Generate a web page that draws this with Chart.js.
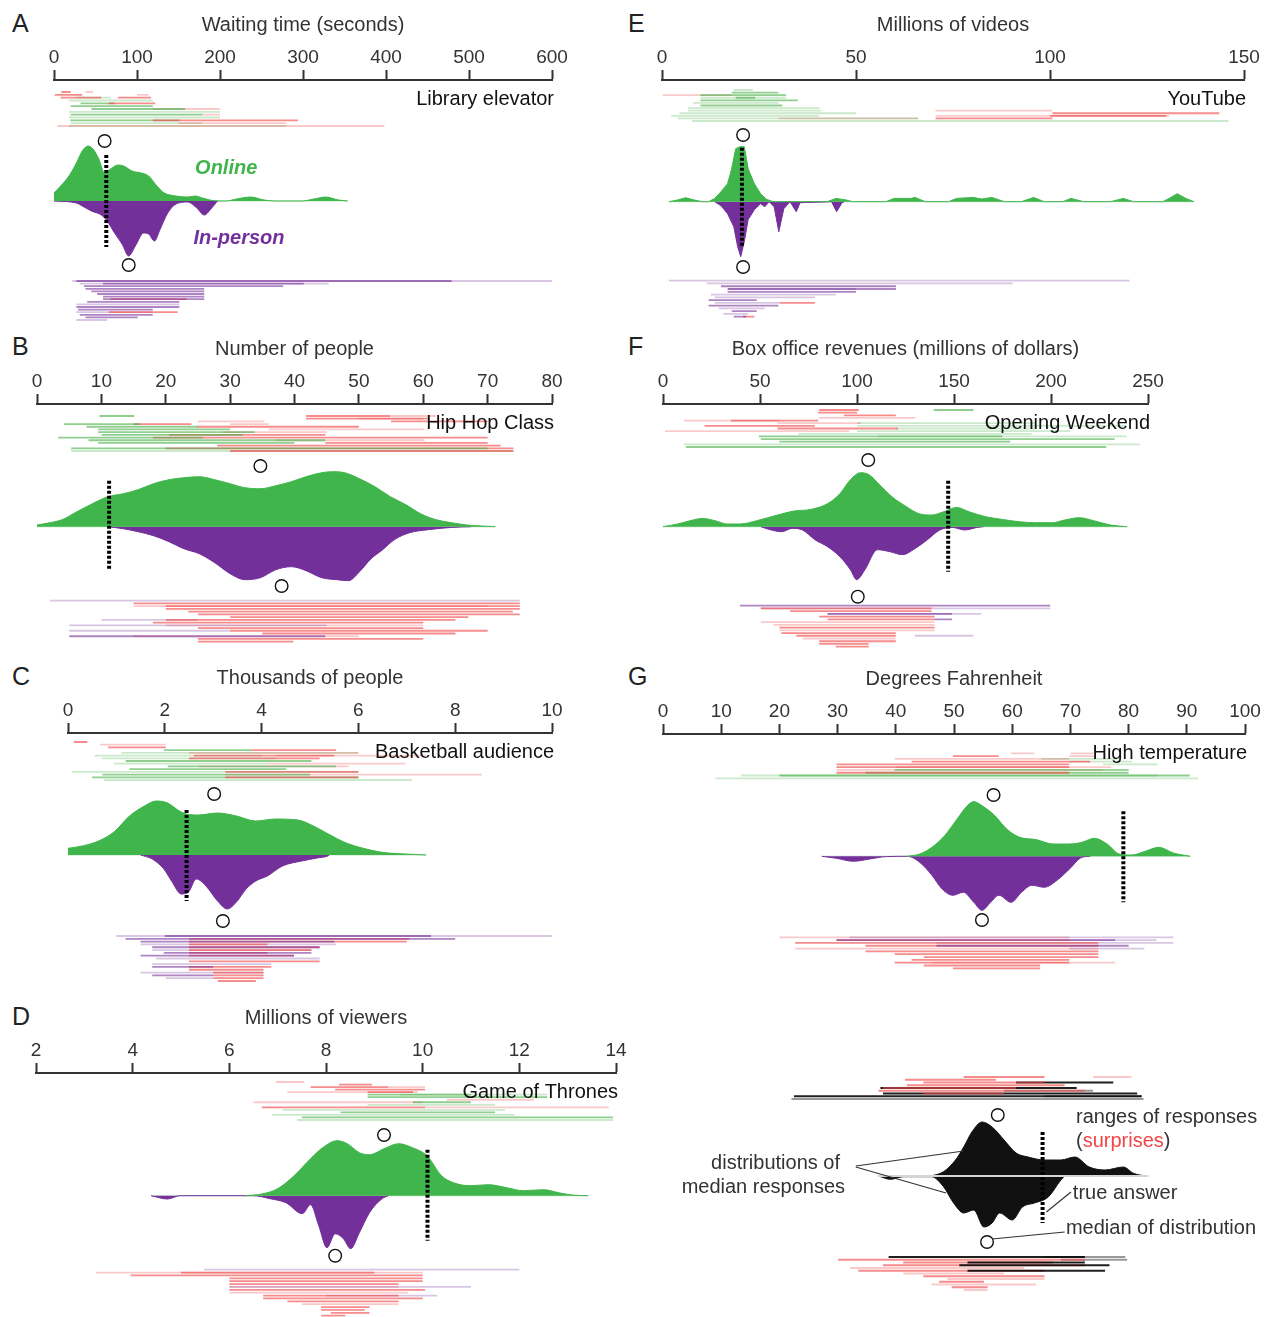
<!DOCTYPE html>
<html>
<head>
<meta charset="utf-8">
<script src="https://cdn.jsdelivr.net/npm/chart.js@4.4.1/dist/chart.umd.min.js"></script>
<style>
  body { margin: 0; background: #fff; width: 1271px; height: 1317px; position: relative; overflow: hidden; font-family: "Liberation Sans", Arial, sans-serif; }
  canvas { position: absolute; }
  .letter { position: absolute; font-size: 25px; line-height: 1; color: #222; }
</style>
</head>
<body>
<div class="letter" style="left:12px;top:11px">A</div>
<div class="letter" style="left:12px;top:334px">B</div>
<div class="letter" style="left:12px;top:664px">C</div>
<div class="letter" style="left:12px;top:1004px">D</div>
<div class="letter" style="left:628px;top:11px">E</div>
<div class="letter" style="left:628px;top:334px">F</div>
<div class="letter" style="left:628px;top:664px">G</div>
<script>
// ---- data: densities are [value, height], ranges are rows of [from, to, colour code] ----

// A  library elevator
const elevTicks = [0, 100, 200, 300, 400, 500, 600];
const elevOnline = [[0,8],[8,15],[18,25],[27,38],[34,50],[41,55],[47,52],[54,42],[61,28],[68,32],[77,36],[84,35],[94,30],[105,28],[114,25],[124,15],[133,8],[147,5],[161,4],[170,5],[179,3],[193,0.3],[207,0],[220,2],[237,4],[253,1],[267,0],[299,0],[313,2],[327,4],[343,1],[354,0]];
const elevInPerson = [[0,0],[27,2],[34,5],[45,10],[57,14],[64,20],[73,32],[82,43],[90,55],[98,45],[108,32],[114,33],[121,40],[128,28],[137,12],[147,3],[161,1],[172,7],[181,14],[190,7],[197,0]];
const elevTruth = 63;
const elevMedians = [61, 90];
const elevOnlineRanges = [
  [[9,20,'r'],[38,47,'R']],
  [[1,34,'r'],[100,114,'R']],
  [[8,57,'r'],[27,68,'G'],[77,117,'r']],
  [[18,119,'G']],
  [[32,73,'g'],[66,122,'r']],
  [[20,119,'g']],
  [[45,158,'g'],[119,200,'R']],
  [[18,137,'G'],[60,200,'G']],
  [[20,179,'g'],[179,200,'R']],
  [[18,200,'G']],
  [[20,151,'g'],[119,294,'r']],
  [[20,179,'G'],[150,280,'R']],
  [[4,398,'R'],[18,280,'G']]
];
const elevInPersonRanges = [
  [[22,600,'P'],[27,479,'p']],
  [[31,331,'P'],[59,301,'p']],
  [[36,276,'p']],
  [[38,181,'p']],
  [[45,181,'p']],
  [[52,181,'p']],
  [[59,181,'p']],
  [[59,181,'p'],[68,160,'r']],
  [[40,151,'p']],
  [[27,151,'P']],
  [[27,151,'p']],
  [[29,119,'p']],
  [[27,119,'P'],[66,149,'r']],
  [[31,119,'p']],
  [[38,101,'p']],
  [[27,64,'P']]
];

// B  hip hop class
const hipTicks = [0, 10, 20, 30, 40, 50, 60, 70, 80];
const hipOnline = [[0,1.7],[2,4],[3.9,7],[6.2,15],[8.6,23],[11,30],[13.4,33],[15.7,37],[18.1,43],[20.5,47],[22.8,49],[25.2,50],[27.6,47],[30,43],[32.3,39],[34.7,38],[37.1,41],[39.5,45],[41.8,50],[44.2,54],[46,55],[47.8,54],[50.1,48],[52.5,40],[54.9,30],[57.3,22],[59.6,13],[62,7],[64.4,4],[66.8,1.7],[69.1,0.7],[71.2,0]];
const hipInPerson = [[11,0],[13.4,2],[15.7,5],[18.1,9],[20.5,15],[22.8,22],[25.2,27],[27.6,36],[30,47],[32.3,53],[34.7,51],[37.1,43],[39.5,40],[41.8,44],[44.2,51],[46.6,53],[48.4,54],[50.1,45],[51.9,32],[53.7,23],[55.5,13],[57.9,6],[60.8,3],[64.4,0.7],[67.4,0]];
const hipTruth = 11.2;
const hipMedians = [34.7, 38];
const hipOnlineRanges = [
  [[9.7,15.1,'g'],[41.8,54.9,'r'],[55,62,'R']],
  [[41.8,60.8,'r'],[50,60,'R']],
  [[25,35.3,'R'],[55,70,'r']],
  [[4.2,16,'g'],[15,24,'r'],[30,36,'R']],
  [[7.7,25,'g'],[24.9,40,'r'],[29.4,50,'r']],
  [[9.5,30,'g'],[36,60.2,'R']],
  [[9.5,33.8,'g'],[28.8,45,'R']],
  [[10,32,'g'],[20.5,44.8,'r']],
  [[3.3,25.8,'g'],[18,70,'r']],
  [[8,44.8,'g'],[37,60.2,'R']],
  [[9.5,40,'g'],[44.8,70,'r']],
  [[28,72,'r']],
  [[5.3,70,'g'],[20,74,'r']],
  [[5.3,74,'G'],[30,74,'r']]
];
const hipInPersonRanges = [
  [[2,75,'P']],
  [[15,75,'r']],
  [[15,70,'R'],[20,75,'r']],
  [[20,75,'r']],
  [[23.5,73.9,'r']],
  [[25,75,'r']],
  [[30,67,'r']],
  [[10,25,'P'],[20,65,'r']],
  [[18,60,'r']],
  [[5,45,'P'],[20,60,'R']],
  [[25,60,'r']],
  [[5,30,'P'],[30,70,'r']],
  [[35,65,'r']],
  [[5,44.8,'p'],[15,50,'R']],
  [[25,60,'r']],
  [[25,39.8,'r']]
];

// C  basketball audience
const bballTicks = [0, 2, 4, 6, 8, 10];
const bballOnline = [[0,6.7],[0.32,9.3],[0.63,14],[0.95,23],[1.27,39],[1.58,49],[1.82,54],[2.06,52],[2.3,44],[2.45,41],[2.69,40],[3.09,42],[3.48,39],[3.88,34],[4.28,36],[4.75,35],[5.07,29],[5.38,21],[5.7,13],[6.1,6.7],[6.49,2.7],[6.97,1],[7.4,0]];
const bballInPerson = [[1.5,0],[1.74,4],[1.98,14],[2.14,26],[2.34,39],[2.49,37],[2.65,24],[2.85,31],[3.09,46],[3.29,54],[3.48,47],[3.68,34],[3.88,26],[4.12,21],[4.43,11],[4.83,6],[5.15,3],[5.38,0.7],[5.4,0]];
const bballTruth = 2.45;
const bballMedians = [3.02, 3.2];
const bballOnlineRanges = [
  [[0.12,0.4,'r']],
  [[0.67,1.54,'R'],[1.54,2.02,'R']],
  [[0.83,2.02,'r']],
  [[1.98,3.8,'g'],[3.8,5.54,'r']],
  [[1.1,6.0,'G'],[2.5,6,'R']],
  [[0.55,4,'G'],[2.6,5.5,'r'],[4.3,7.4,'R']],
  [[0.7,4.3,'G'],[2.5,5.2,'r']],
  [[1.19,5.03,'g']],
  [[0.95,4.12,'G'],[4.12,6.97,'R']],
  [[2.06,5.54,'g'],[2.7,5.8,'R']],
  [[1.27,4.51,'g']],
  [[0.08,6,'G'],[3.25,6,'r']],
  [[0.71,5,'g'],[3.25,8.55,'R']],
  [[0.5,6,'g'],[3.25,6,'r']],
  [[0.75,7.1,'G']]
];
const bballInPersonRanges = [
  [[1,10,'P'],[2,7.5,'p']],
  [[1.19,8,'p'],[2.5,7.05,'r']],
  [[1.5,5.5,'p'],[2.5,7,'r']],
  [[1.5,5.54,'P'],[2.5,4.12,'r']],
  [[1.74,5.2,'p'],[2.5,5.2,'r']],
  [[1.74,5.03,'P'],[2.5,5.03,'r']],
  [[1.98,5.03,'p'],[2.5,4.12,'r']],
  [[1.5,4.67,'p'],[2.5,4.67,'r']],
  [[1.82,5.2,'P']],
  [[2.5,5.2,'r']],
  [[1.74,4.2,'P']],
  [[2.5,4.2,'r'],[1.74,3,'p']],
  [[2.5,4.04,'r']],
  [[1.5,4.04,'P'],[3,4.04,'r']],
  [[1.74,3,'p'],[3,4.04,'r']],
  [[2.02,3,'P'],[3,4.04,'r']],
  [[3.1,3.88,'r']]
];

// D  game of thrones
const gotTicks = [2, 4, 6, 8, 10, 12, 14];
const gotOnline = [[6.33,0],[6.67,1.7],[7.0,7],[7.34,20],[7.68,37],[7.93,48],[8.23,55],[8.44,52],[8.69,43],[8.9,41],[9.2,47],[9.5,52],[9.79,48],[10.09,40],[10.39,20],[10.64,13],[10.98,10],[11.36,11],[11.74,8],[12.08,5],[12.5,6],[12.84,2.7],[13.09,0.7],[13.43,0]];
const gotInPerson = [[4.38,0],[4.72,3.3],[4.98,0],[6.5,0],[6.84,3],[7.17,7],[7.51,18],[7.68,9],[7.85,30],[8.02,52],[8.19,38],[8.36,43],[8.51,53],[8.69,37],[8.9,17],[9.16,3],[9.29,0]];
const gotTruth = 10.1;
const gotMedians = [9.2, 8.19];
const gotOnlineRanges = [
  [[6.96,7.55,'R']],
  [[8.27,8.95,'r']],
  [[7.68,9.29,'r'],[9.29,10.05,'R']],
  [[8.19,10.05,'r']],
  [[7.2,9.9,'R'],[8.86,9.8,'r']],
  [[8.86,11.0,'g'],[9.54,12.58,'G']],
  [[8.86,12.58,'g']],
  [[10.5,12.3,'R']],
  [[6.5,10.0,'R'],[9.8,11,'g']],
  [[8.86,11.5,'G']],
  [[6.67,10.05,'r'],[10.05,13.85,'R']],
  [[7.1,11.7,'G']],
  [[8.3,11.5,'g']],
  [[6.88,11.9,'G']],
  [[7.5,13.94,'g']],
  [[7.4,13.94,'G']]
];
const gotInPersonRanges = [
  [[5.48,12,'P']],
  [[3.24,10,'R'],[5,9,'r']],
  [[3.96,9.03,'r'],[5.0,10,'r']],
  [[6,10,'r']],
  [[6,10,'r']],
  [[6,9.5,'r']],
  [[6,11,'P'],[6,9.5,'R']],
  [[6,10.05,'r']],
  [[6,9.7,'R']],
  [[6.7,9.5,'r'],[8,10.3,'P']],
  [[6.7,10,'r']],
  [[7.2,9.5,'r']],
  [[7.5,9.5,'R']],
  [[7.9,8.9,'r']],
  [[7.9,8.8,'r']],
  [[8.1,8.9,'r']],
  [[7.9,8.4,'r']]
];

// E  youtube
const ytTicks = [0, 50, 100, 150];
const ytOnline = [[1.8,0],[4,1.7],[6.1,4],[8.3,1.7],[10.4,0],[12,0],[13.6,3.3],[15.2,10],[16.9,18],[17.9,32],[19,53],[20.1,55],[21.2,55],[22.2,33],[23.8,18],[25.4,8],[27,2.3],[28.7,0],[42.6,0],[44.8,3.3],[47.5,1.7],[49.1,0],[57.7,0],[59.8,3.3],[64.1,3.3],[65.2,4.3],[67.9,0],[73.8,0],[75.9,3.3],[80.2,4.3],[82.4,2.7],[85,4.3],[88.3,0],[92.6,0],[95.8,4.3],[98.5,0],[103.3,0],[105.4,3.3],[108.7,0],[115.6,0],[118.9,3.3],[121.5,0],[129,0],[130.7,3.3],[132.8,8],[135,3.3],[137.1,0]];
const ytInPerson = [[13.6,0],[15.2,4],[16.9,12],[18.5,25],[19.5,45],[20.3,55],[21.2,40],[22.2,18],[23.8,8],[25.4,2],[26.5,5],[27.6,0],[28.9,5],[30.1,30],[31.4,7],[33,0],[34.6,10],[35.6,1],[43.7,0],[45,10],[46.4,1],[47,0]];
const ytTruth = 20.6;
const ytMedians = [20.9, 20.9];
const ytOnlineRanges = [
  [[18.5,23.4,'G']],
  [[18,30,'g']],
  [[0.2,18,'R'],[9.9,32,'g']],
  [[9.9,32,'G'],[19,24,'g']],
  [[9.9,35,'g']],
  [[8,30,'G']],
  [[9.9,31,'g']],
  [[6.7,40.5,'G']],
  [[6.7,41,'G'],[70.5,100.6,'R']],
  [[4.5,50,'G'],[100.6,143.6,'r']],
  [[2.4,40.5,'G'],[70.5,130.7,'R'],[100,130,'r']],
  [[4,66,'G'],[30,66,'R'],[70.5,100.6,'r']],
  [[7.7,146,'G']]
];
const ytInPersonRanges = [
  [[1.8,120.5,'P']],
  [[11.5,90.4,'P']],
  [[15.2,60.3,'p']],
  [[16.9,60.3,'p'],[17,50,'P']],
  [[16.9,50,'p']],
  [[12.6,44.8,'P']],
  [[13.6,39.4,'P']],
  [[12,24.4,'p']],
  [[13.6,30.3,'P'],[30.3,39.4,'r']],
  [[12,30,'p']],
  [[14.6,26.5,'P']],
  [[18,24.4,'p']],
  [[15.8,22.2,'P']],
  [[18.5,21.7,'p'],[20.9,23.8,'r']]
];

// F  opening weekend
const boxTicks = [0, 50, 100, 150, 200, 250];
const boxOnline = [[0,0],[7.5,2.7],[14,6],[20.4,8.3],[26.8,6],[33.3,2.7],[39.7,2.7],[48.3,6],[59,11.7],[67.6,15.7],[76.2,17.3],[84.8,23],[91.2,33],[96.6,47],[101.9,54],[106.2,52],[111.6,42],[118,30],[125.5,20],[132,13],[138.4,11.7],[144.8,15],[151.3,19.3],[157.7,15],[166.3,10],[174.9,7.3],[183.5,5],[192,4],[200.6,4],[207,6.7],[214.6,9],[222,6],[230.7,1.7],[239.3,0]];
const boxInPerson = [[50.4,0],[55.8,3.3],[61.2,5],[66.5,1.7],[71.9,3.3],[78.3,13],[84.8,20],[91.2,30],[96.6,43],[99.8,53],[104.1,43],[110.5,23],[117,25],[123.4,28],[129.8,22],[136.3,13],[142.7,3.3],[149.1,0.7],[155.6,3.3],[162,0.7],[165.2,0]];
const boxTruth = 147;
const boxMedians = [105.8, 100.4];
const boxOnlineRanges = [
  [[80.5,100.9,'r'],[139.5,160,'g']],
  [[80,100,'r']],
  [[93.3,120,'r']],
  [[80.5,130,'R']],
  [[10.7,60,'R'],[35,80,'r']],
  [[59,102,'R'],[100,192,'G']],
  [[21.4,78.3,'r'],[100,239,'G']],
  [[59,121,'r'],[120,192,'G']],
  [[1,96,'R'],[100,210,'G']],
  [[69.7,190,'G']],
  [[49.4,174.9,'g'],[110.5,239,'G']],
  [[50.4,232.8,'g']],
  [[60,179,'g']],
  [[10.7,245.7,'G']],
  [[11.8,228.5,'g']]
];
const boxInPersonRanges = [
  [[39.7,199.6,'p']],
  [[50.4,199.6,'P'],[50.4,138.4,'r']],
  [[65.5,138.4,'r']],
  [[84.8,164,'P'],[84.8,149,'p']],
  [[80.5,140,'r']],
  [[84.8,140,'r'],[140,149,'p']],
  [[50.4,140,'R']],
  [[56.8,140,'R']],
  [[60,140,'r']],
  [[60,140,'R']],
  [[61,120,'r']],
  [[68.7,120,'r'],[129.8,160,'P']],
  [[72,120,'R']],
  [[80.5,120,'r']],
  [[80.5,106,'r']],
  [[89,106,'r']]
];

// G  high temperature
const tempTicks = [0, 10, 20, 30, 40, 50, 60, 70, 80, 90, 100];
const tempOnline = [[42,0],[44.1,2.3],[46.2,9],[48.4,20.7],[50.5,37],[52.3,50.7],[53.4,54.7],[54.8,50.7],[57,40.7],[59.1,27],[61.3,19],[64.1,16.7],[67,12.3],[69.8,12.3],[72,14],[74.1,18],[76.3,12.3],[78.4,2.3],[80.6,1.3],[82.7,4.7],[85.2,9],[87.7,3.3],[90.6,0]];
const tempInPerson = [[27.3,0],[29.8,2],[32.7,5],[35.5,2.7],[38.4,0.3],[42,0],[44.1,6],[46.2,19],[48,33],[49.8,39],[51.6,36],[53.4,46],[54.8,54],[56.3,46],[57.7,39],[59.8,46],[61.6,36],[63.4,29],[65.5,31],[67.7,24],[69.8,13],[72,1],[73.4,0]];
const tempTruth = 79.1;
const tempMedians = [56.8, 54.8];
const tempOnlineRanges = [
  [[59.8,63.8,'R'],[70,74,'R']],
  [[49.8,57.7,'r'],[69.8,74,'R']],
  [[39.8,69.8,'R'],[65,78,'G']],
  [[42.7,73.4,'r'],[69.8,80.6,'G']],
  [[29.8,69.8,'r'],[75.6,85,'G']],
  [[29.8,69.8,'r'],[40,77,'R']],
  [[29.8,75.6,'R'],[39.8,80,'g']],
  [[29.8,69.8,'r'],[34.8,80,'g']],
  [[13.4,85,'G'],[20,90.5,'g']],
  [[9,92,'G']]
];
const tempInPersonRanges = [
  [[32,87.7,'P'],[20,69.8,'R']],
  [[29.8,77.7,'p'],[29.8,69.8,'r'],[69.8,84.8,'P']],
  [[22.7,74.8,'r'],[47,87.7,'P']],
  [[34.8,74.8,'r'],[47,80,'p']],
  [[22.7,74.8,'R'],[69.8,82.7,'P']],
  [[34.8,74.8,'r'],[39.8,69.8,'r']],
  [[39.8,74.8,'r']],
  [[44.8,74.8,'r']],
  [[42.7,69.8,'r']],
  [[39.8,69.8,'r'],[46.2,77.7,'R']],
  [[44.8,64.8,'r']],
  [[49.8,64.8,'r']]
];

// key panel (schematic, arbitrary units 0-100)
const keyUpper = [[46.2,0],[48.1,4.3],[50,16],[51.3,29],[52.6,44],[54.2,54],[55.8,49],[57.7,36],[59.6,23],[61.5,19],[64.1,16],[66.7,16],[68.9,19],[71.2,9],[73.7,6],[76.6,9],[78.2,2.7],[80.1,0]];
const keyLower = [[37.8,0],[39.7,3.3],[41.7,0.7],[46.2,0.7],[48.1,10.7],[49.7,27],[51.3,37],[52.9,34],[54.5,51],[55.8,47],[57,37],[59,44],[60.6,31],[62.5,27],[64.7,21],[66.7,4],[67.3,0]];
const keyTruth = 63.8;
const keyMedians = [56.7, 55];
const keyUpperRanges = [
  [[51.3,64.1,'r'],[71.8,77.9,'R']],
  [[42,56.4,'r']],
  [[59.6,75,'k'],[44.9,64.1,'r']],
  [[42.3,67.3,'r']],
  [[38.1,69.2,'k'],[38.5,59.6,'r']],
  [[37.8,70.5,'r'],[57.7,71.8,'K']],
  [[38.5,78.8,'k'],[44.9,57.7,'r']],
  [[24.4,79.5,'k'],[64.1,79.5,'K']],
  [[24,79.8,'K']]
];
const keyLowerRanges = [
  [[39.4,70.5,'k'],[64.1,76.9,'K']],
  [[31.4,70.5,'r'],[66.7,77.2,'K']],
  [[41.7,65.4,'r'],[51.9,70.5,'k']],
  [[50.6,74.4,'k'],[38.5,70.5,'r']],
  [[33.3,60.9,'R']],
  [[51.9,73.7,'k'],[34.6,64.1,'r']],
  [[41.7,57.7,'R']],
  [[44.9,64.1,'r']],
  [[48.7,64.1,'R']],
  [[47.4,54.5,'r']],
  [[46.2,62.8,'R']],
  [[49.4,55.1,'r']],
  [[51.3,55.1,'R']]
];

// ---- drawing ----
const FONT = '"Liberation Sans", Arial, sans-serif';
Chart.defaults.font.family = FONT;
const GREEN = '#3fb54b';
const PURPLE = '#74309a';
const LINE_COLORS = {
  g: 'rgba(70,175,70,0.6)', G: 'rgba(70,175,70,0.28)',
  r: 'rgba(240,70,70,0.62)', R: 'rgba(240,80,80,0.3)',
  p: 'rgba(120,50,155,0.6)', P: 'rgba(120,50,155,0.28)',
  k: 'rgba(0,0,0,0.88)', K: 'rgba(0,0,0,0.4)'
};
// height of the top axis block: tick marks 10 + title 24 + title pad 9 + labels 22.8 + 2 * label pad 0.6
const AXIS_H = 67;

function rangeSets(rows, yStart, yEnd) {
  const step = rows.length > 1 ? (yEnd - yStart) / (rows.length - 1) : 0;
  const byColor = {};
  rows.forEach((row, i) => {
    const y = yStart + i * step;
    row.forEach(([a, b, c]) => {
      (byColor[c] = byColor[c] || []).push({x: a, y}, {x: b, y}, {x: b, y: null});
    });
  });
  return Object.keys(byColor).map(c => ({
    type: 'line', data: byColor[c], borderColor: LINE_COLORS[c], borderWidth: 1.8,
    pointRadius: 0, spanGaps: false, fill: false, tension: 0,
    order: c === c.toUpperCase() ? 7 : 6
  }));
}

function densitySet(pairs, sign, color, smooth) {
  return {
    type: 'line', data: pairs.map(([x, h]) => ({x, y: sign * h})),
    backgroundColor: color, borderColor: color, borderWidth: 1, pointRadius: 0,
    fill: 'origin', tension: 0, cubicInterpolationMode: smooth ? 'monotone' : 'default', order: 3
  };
}

const annotate = {
  id: 'annotate',
  afterDatasetsDraw(chart, args, opts) {
    const {ctx, chartArea, scales: {x, y}} = chart;
    ctx.save();
    if (opts.question) {
      ctx.font = '20px ' + FONT;
      ctx.fillStyle = '#111';
      ctx.textAlign = 'right';
      ctx.textBaseline = 'middle';
      ctx.fillText(opts.question, chartArea.right + 2, chartArea.top + 19);
    }
    (opts.lines || []).forEach(l => {
      ctx.strokeStyle = '#333';
      ctx.lineWidth = 1.2;
      ctx.beginPath();
      ctx.moveTo(x.getPixelForValue(l[0]), y.getPixelForValue(l[1]));
      ctx.lineTo(x.getPixelForValue(l[2]), y.getPixelForValue(l[3]));
      ctx.stroke();
    });
    (opts.labels || []).forEach(t => {
      ctx.font = t.font;
      ctx.textAlign = 'left';
      ctx.textBaseline = 'middle';
      const total = t.parts.reduce((s, p) => s + ctx.measureText(p[0]).width, 0);
      let px = x.getPixelForValue(t.x) - (t.align === 'right' ? total : 0);
      const py = y.getPixelForValue(t.y);
      t.parts.forEach(([txt, col]) => {
        ctx.fillStyle = col;
        ctx.fillText(txt, px, py);
        px += ctx.measureText(txt).width;
      });
    });
    ctx.restore();
  }
};

function buildPanel(p) {
  const [left, top, width, height] = p.box;
  const cv = document.createElement('canvas');
  cv.width = width;
  cv.height = height;
  cv.style.left = left + 'px';
  cv.style.top = top + 'px';
  document.body.appendChild(cv);

  const upColor = p.key ? '#111' : GREEN;
  const downColor = p.key ? '#111' : PURPLE;
  const lastUp = p.up[p.up.length - 1][0];
  const datasets = [
    ...rangeSets(p.upRanges, p.rowsTop[0], p.rowsTop[1]),
    ...rangeSets(p.downRanges, p.rowsBot[0], p.rowsBot[1]),
    densitySet(p.up, 1, upColor, p.smooth),
    densitySet(p.down, -1, downColor, p.smooth),
    {
      type: 'line', data: [{x: Math.min(p.up[0][0], p.down[0][0]), y: 0}, {x: lastUp + (p.key ? 0.5 : 0), y: 0}],
      borderColor: p.key ? '#d6d6d6' : 'rgba(70,180,75,0.22)', borderWidth: p.key ? 2 : 1.5,
      pointRadius: 0, order: p.key ? 2 : 4
    },
    {
      type: 'line', data: [{x: p.truth, y: p.dash[0]}, {x: p.truth, y: p.dash[1]}],
      borderColor: '#000', borderWidth: 4, borderDash: [3, 2], borderCapStyle: 'butt', pointRadius: 0, order: 1
    },
    {
      type: 'scatter', data: [{x: p.medians[0], y: p.circles[0]}, {x: p.medians[1], y: -p.circles[1]}],
      pointRadius: 6.3, pointBackgroundColor: '#fff', pointBorderColor: '#111', pointBorderWidth: 1.4, showLine: false, order: 0
    }
  ];

  const axisTop = p.key ? top : p.axisY;
  new Chart(cv, {
    type: 'line',
    data: {datasets},
    options: {
      responsive: false,
      animation: false,
      events: [],
      layout: {
        autoPadding: false,
        padding: {
          left: p.px[0] - left,
          right: left + width - p.px[1],
          top: p.key ? 0 : p.axisY - top - AXIS_H,
          bottom: 0
        }
      },
      scales: {
        x: {
          type: 'linear', position: 'top', display: !p.key,
          min: p.range[0], max: p.range[1],
          afterBuildTicks: s => { s.ticks = (p.ticks || []).map(v => ({value: v})); },
          ticks: {font: {size: 19}, color: '#333', padding: 0.6, autoSkip: false, maxRotation: 0},
          grid: {display: true, drawOnChartArea: false, drawTicks: true, tickLength: 10, tickWidth: 2, tickColor: '#333'},
          border: {display: true, color: '#333', width: 2},
          title: {display: !!p.title, text: p.title, font: {size: 20}, color: '#333', padding: {top: 0, bottom: 9}}
        },
        y: {display: false, min: p.baseY - (top + height), max: p.baseY - axisTop}
      },
      plugins: {
        legend: {display: false},
        tooltip: {enabled: false},
        annotate: {question: p.question, labels: p.labels, lines: p.lines}
      }
    },
    plugins: [annotate]
  });
}

const BOLD_IT = 'italic bold 20px ' + FONT;
const KEY_FONT = '20px ' + FONT;

const panels = [
  {box: [0, 0, 640, 330], axisY: 80, baseY: 201, px: [54, 552], range: [0, 600], ticks: elevTicks,
   title: 'Waiting time (seconds)', question: 'Library elevator',
   up: elevOnline, down: elevInPerson, upRanges: elevOnlineRanges, downRanges: elevInPersonRanges,
   truth: elevTruth, medians: elevMedians, rowsTop: [109, 75], rowsBot: [-80, -119], circles: [60, 64], dash: [46, -46], smooth: true,
   labels: [
     {x: 170, y: 33, font: BOLD_IT, parts: [['Online', GREEN]]},
     {x: 168, y: -37, font: BOLD_IT, parts: [['In-person', PURPLE]]}
   ]},
  {box: [0, 330, 640, 330], axisY: 404, baseY: 526.7, px: [37, 552], range: [0, 80], ticks: hipTicks,
   title: 'Number of people', question: 'Hip Hop Class',
   up: hipOnline, down: hipInPerson, upRanges: hipOnlineRanges, downRanges: hipInPersonRanges,
   truth: hipTruth, medians: hipMedians, rowsTop: [110.7, 75.7], rowsBot: [-74, -115], circles: [60.7, 59.3], dash: [46, -44], smooth: true},
  {box: [0, 660, 640, 335], axisY: 733, baseY: 855, px: [68, 552], range: [0, 10], ticks: bballTicks,
   title: 'Thousands of people', question: 'Basketball audience',
   up: bballOnline, down: bballInPerson, upRanges: bballOnlineRanges, downRanges: bballInPersonRanges,
   truth: bballTruth, medians: bballMedians, rowsTop: [113, 75], rowsBot: [-81, -126], circles: [61, 66], dash: [45, -46], smooth: true},
  {box: [0, 995, 640, 322], axisY: 1073, baseY: 1195.7, px: [36, 616], range: [2, 14], ticks: gotTicks,
   title: 'Millions of viewers', question: 'Game of Thrones',
   up: gotOnline, down: gotInPerson, upRanges: gotOnlineRanges, downRanges: gotInPersonRanges,
   truth: gotTruth, medians: gotMedians, rowsTop: [113.7, 75.7], rowsBot: [-74, -120], circles: [60.7, 60], dash: [46, -45], smooth: true},
  {box: [620, 0, 651, 330], axisY: 80, baseY: 201.7, px: [662, 1244], range: [0, 150], ticks: ytTicks,
   title: 'Millions of videos', question: 'YouTube',
   up: ytOnline, down: ytInPerson, upRanges: ytOnlineRanges, downRanges: ytInPersonRanges,
   truth: ytTruth, medians: ytMedians, rowsTop: [111.7, 80.7], rowsBot: [-79, -115], circles: [66.7, 65.3], dash: [54, -44], smooth: false},
  {box: [620, 330, 651, 330], axisY: 404, baseY: 526.7, px: [663, 1148], range: [0, 250], ticks: boxTicks,
   title: 'Box office revenues (millions of dollars)', question: 'Opening Weekend',
   up: boxOnline, down: boxInPerson, upRanges: boxOnlineRanges, downRanges: boxInPersonRanges,
   truth: boxTruth, medians: boxMedians, rowsTop: [116.7, 79.7], rowsBot: [-79, -120], circles: [66.7, 70], dash: [46, -45], smooth: true},
  {box: [620, 660, 651, 335], axisY: 734, baseY: 856.3, px: [663, 1245], range: [0, 100], ticks: tempTicks,
   title: 'Degrees Fahrenheit', question: 'High temperature',
   up: tempOnline, down: tempInPerson, upRanges: tempOnlineRanges, downRanges: tempInPersonRanges,
   truth: tempTruth, medians: tempMedians, rowsTop: [103, 78], rowsBot: [-81, -112], circles: [61.3, 63.7], dash: [45, -46], smooth: true},
  {key: true, box: [640, 1060, 631, 257], baseY: 1176, px: [640, 1271], range: [0, 100],
   up: keyUpper, down: keyLower, upRanges: keyUpperRanges, downRanges: keyLowerRanges,
   truth: keyTruth, medians: keyMedians, rowsTop: [99, 77], rowsBot: [-81, -114], circles: [61, 66], dash: [44, -47], smooth: true,
   labels: [
     {x: 69.1, y: 59, font: KEY_FONT, parts: [['ranges of responses', '#333']]},
     {x: 69.1, y: 35, font: KEY_FONT, parts: [['(', '#333'], ['surprises', '#f04545'], [')', '#333']]},
     {x: 31.7, y: 13, font: KEY_FONT, align: 'right', parts: [['distributions of', '#333']]},
     {x: 32.5, y: -11, font: KEY_FONT, align: 'right', parts: [['median responses', '#333']]},
     {x: 68.6, y: -17, font: KEY_FONT, parts: [['true answer', '#333']]},
     {x: 67.5, y: -52, font: KEY_FONT, parts: [['median of distribution', '#333']]}
   ],
   lines: [[34.2, 10, 51.3, 25], [34.2, 9, 48.5, -17], [64.4, -36, 68.3, -16], [55.8, -63, 67.3, -56]]}
];

panels.forEach(buildPanel);
</script>
</body>
</html>
